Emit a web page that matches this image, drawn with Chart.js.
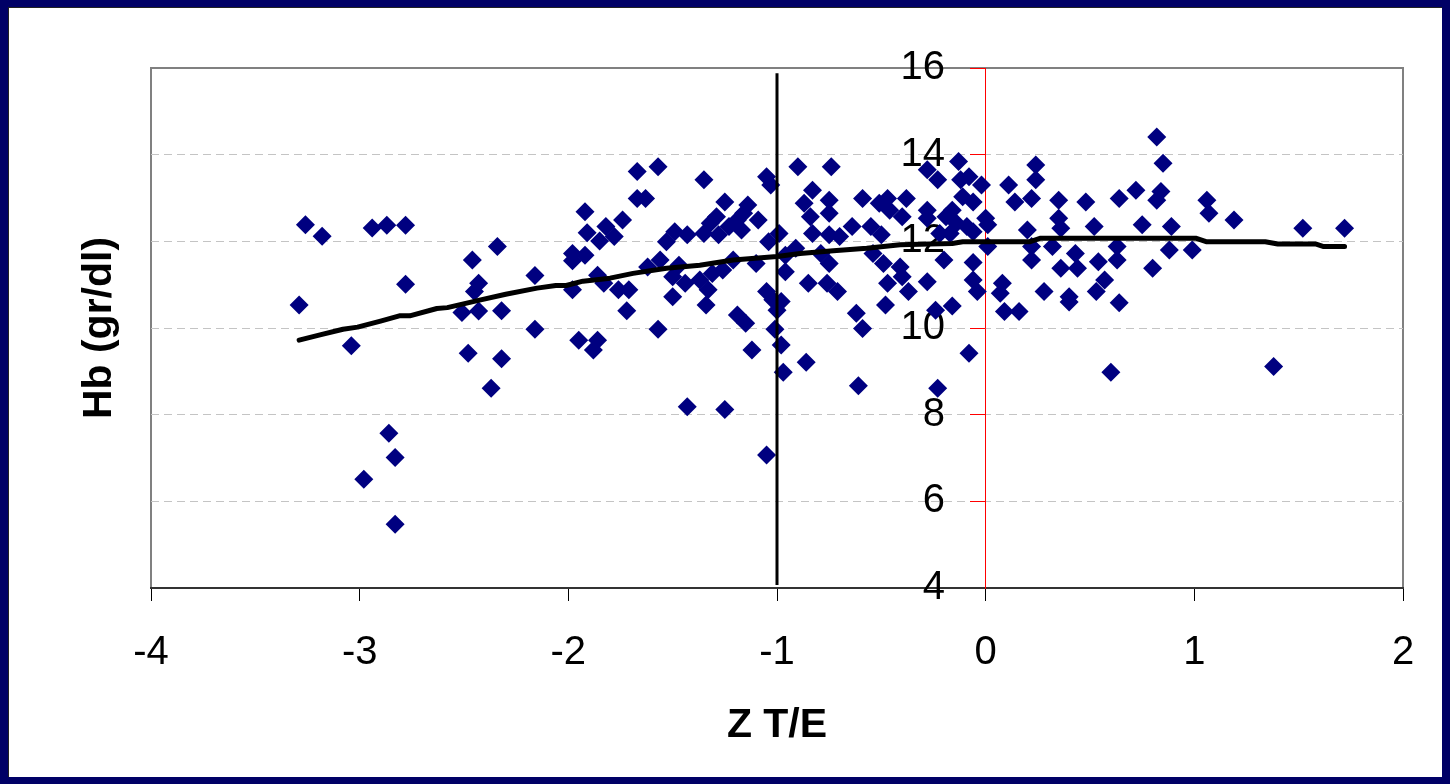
<!DOCTYPE html>
<html>
<head>
<meta charset="utf-8">
<script src="https://cdn.jsdelivr.net/npm/chart.js@4.4.1/dist/chart.umd.min.js"></script>
<style>
  html, body { margin: 0; padding: 0; }
  body { width: 1450px; height: 784px; background: #000066; position: relative; overflow: hidden; }
  #frame { position: absolute; left: 8px; top: 7px; width: 1434px; height: 770px; background: #ffffff; border-left: 1px solid #222; border-top: 1px solid #222; box-sizing: border-box; }
  #chart { position: absolute; left: 0; top: 0; }
</style>
</head>
<body>
<div id="frame"></div>
<canvas id="chart" width="1450" height="784"></canvas>
<script>
const FONT_FAMILY = "'Liberation Sans', Arial, sans-serif";

// scatter points: Z score (T/E) and haemoglobin
const zScores = [
  -3.26, -3.18, -2.94, -2.87, -2.78, -3.29, -2.78, -3.04, -2.46, -2.34,
  -2.43, -2.45, -2.51, -2.43, -2.32, -2.48, -2.32, -2.16, -2.16, -1.92,
  -1.91, -1.85, -1.98, -1.92, -1.98, -1.86, -1.83, -1.98, -1.95, -1.86,
  -1.88, -1.82, -2.37, -2.86, -2.83, -2.98, -2.83, -1.67, -1.57, -1.35,
  -1.05, -1.03, -0.90, -0.74, -1.67, -1.63, -1.74, -1.78, -1.25, -1.14,
  -1.16, -1.19, -1.29, -1.32, -1.23, -1.09, -1.35, -1.28, -1.43, -1.49,
  -1.53, -1.17, -0.99, -1.04, -0.83, -0.87, -0.75, -0.75, -0.84, -0.83,
  -0.75, -0.70, -0.64, -0.59, -0.51, -0.47, -0.38, -0.46, -0.40, -0.55,
  -0.50, -0.28, -0.28, -0.91, -0.96, -0.79, -0.75, -0.54, -0.49, -0.41,
  -0.40, -1.56, -1.62, -1.47, -1.50, -1.44, -1.37, -1.33, -1.31, -1.26,
  -1.21, -1.10, -0.96, -1.76, -1.71, -1.50, -1.72, -1.34, -1.05, -1.02,
  -0.98, -1.00, -0.85, -0.76, -0.71, -0.47, -0.37, -0.48, -0.28, -1.19,
  -1.15, -1.57, -1.01, -0.62, -0.59, -1.12, -0.98, -0.86, -0.97, -0.61,
  -1.43, -1.25, -1.05, 0.82, 0.85, -0.13, -0.23, -0.12, -0.08, -0.02,
  0.11, 0.24, 0.24, 0.14, 0.22, 0.35, 0.48, 0.64, 0.72, 0.84,
  0.82, 1.06, 1.07, 1.19, -0.11, -0.06, -0.28, -0.16, -0.19, -0.14,
  -0.09, 0.00, 0.01, -0.06, -0.22, -0.17, 0.35, 0.36, 0.52, 0.75,
  0.89, 0.20, 0.01, 0.22, 0.32, 0.43, 0.63, 0.88, 0.99, -0.20,
  -0.06, 0.22, 0.36, 0.44, 0.54, 0.63, 0.80, -0.06, -0.04, 0.08,
  0.07, 0.28, 0.40, 0.40, 0.57, 0.53, 0.64, -0.24, -0.16, 0.09,
  0.16, -0.08, 0.60, -0.23, 1.38, 1.52, 1.72
];

const hbValues = [
  12.38, 12.12, 12.31, 12.37, 12.37, 10.53, 11.01, 9.59, 11.57, 11.88,
  11.03, 10.84, 10.36, 10.39, 10.40, 9.42, 9.29, 11.21, 9.97, 12.68,
  12.20, 12.01, 11.72, 11.68, 11.55, 11.22, 11.03, 10.88, 9.72, 9.72,
  9.49, 12.34, 8.61, 7.57, 7.01, 6.51, 5.47, 13.61, 13.72, 13.42,
  13.49, 13.30, 13.72, 13.72, 12.99, 12.99, 12.49, 12.11, 12.91, 12.84,
  12.65, 12.49, 12.57, 12.42, 12.34, 12.49, 12.18, 12.15, 12.15, 12.22,
  11.99, 12.26, 12.18, 11.99, 13.18, 12.88, 12.95, 12.65, 12.57, 12.18,
  12.15, 12.11, 12.34, 12.99, 12.88, 12.99, 12.99, 12.72, 12.57, 12.34,
  12.15, 13.65, 12.72, 11.84, 11.68, 11.72, 11.49, 11.72, 11.49, 11.41,
  11.18, 11.57, 11.41, 11.45, 11.18, 11.03, 11.11, 10.88, 11.26, 11.34,
  11.57, 11.49, 11.30, 10.88, 10.88, 10.72, 10.40, 10.53, 10.84, 10.65,
  10.61, 10.41, 11.03, 11.03, 10.84, 11.03, 10.84, 10.53, 11.07, 10.30,
  10.11, 9.97, 9.97, 10.34, 9.99, 9.49, 9.61, 9.21, 8.98, 8.67,
  8.18, 8.12, 7.07, 14.41, 13.80, 13.84, 13.42, 13.42, 13.49, 13.30,
  13.30, 13.76, 13.42, 12.91, 12.99, 12.95, 12.91, 12.99, 13.18, 13.15,
  12.95, 12.95, 12.65, 12.49, 13.03, 12.91, 12.53, 12.72, 12.57, 12.42,
  12.34, 12.53, 12.38, 12.22, 12.18, 12.18, 12.53, 12.30, 12.34, 12.38,
  12.34, 12.26, 11.88, 11.88, 11.88, 11.72, 11.88, 11.80, 11.80, 11.57,
  11.51, 11.57, 11.38, 11.38, 11.53, 11.57, 11.38, 11.11, 10.84, 11.03,
  10.80, 10.84, 10.72, 10.60, 11.11, 10.84, 10.58, 10.41, 10.51, 10.38,
  10.38, 9.42, 8.98, 8.61, 9.11, 12.30, 12.30
];

// smoothed trend curve
const trendX = [
  -3.29, -3.19, -3.08, -3.01, -2.90, -2.81, -2.76, -2.63, -2.58, -2.42,
  -2.30, -2.15, -2.06, -2.01, -1.93, -1.80, -1.69, -1.53, -1.37, -1.21,
  -1.00, -0.89, -0.73, -0.57, -0.41, -0.27, -0.16, -0.11, 0.21, 0.26,
  1.01, 1.06, 1.34, 1.40, 1.58, 1.62, 1.72
];
const trendY = [
  9.72, 9.84, 9.97, 10.02, 10.16, 10.28, 10.28, 10.45, 10.47, 10.65,
  10.78, 10.92, 10.98, 10.98, 11.08, 11.15, 11.26, 11.38, 11.45, 11.57,
  11.65, 11.72, 11.78, 11.84, 11.92, 11.94, 11.95, 11.99, 11.99, 12.07,
  12.07, 11.99, 11.99, 11.94, 11.94, 11.88, 11.88
];

// vertical reference line at Z = -1
const refLineX = [-1, -1];
const refLineY = [15.88, 4.07];

const xTicks = [-4, -3, -2, -1, 0, 1, 2];
const yTicks = [4, 6, 8, 10, 12, 14, 16];

// the y labels sit a little left of the axis drawn at Z = 0
const yLabelColumnAt = -0.195;

function toPoints(xs, ys) {
  return xs.map((x, i) => ({ x, y: ys[i] }));
}

const plotFrame = {
  id: "plotFrame",
  beforeDraw(chart) {
    const { ctx, chartArea } = chart;
    ctx.save();
    ctx.strokeStyle = "#808080";
    ctx.lineWidth = 2;
    ctx.strokeRect(chartArea.left, chartArea.top, chartArea.right - chartArea.left, chartArea.bottom - chartArea.top);
    ctx.restore();
  }
};

new Chart(document.getElementById("chart"), {
  type: "scatter",
  data: {
    datasets: [
      {
        label: "Z = -1",
        data: toPoints(refLineX, refLineY),
        showLine: true,
        borderColor: "#000000",
        borderWidth: 3,
        pointRadius: 0,
        order: 1
      },
      {
        label: "trend",
        data: toPoints(trendX, trendY),
        showLine: true,
        borderColor: "#000000",
        borderWidth: 5,
        borderCapStyle: "round",
        borderJoinStyle: "round",
        pointRadius: 0,
        tension: 0,
        order: 0
      },
      {
        label: "Hb",
        data: toPoints(zScores, hbValues),
        pointStyle: "rectRot",
        pointRadius: 9.5,
        backgroundColor: "#000080",
        borderColor: "#000080",
        borderWidth: 0,
        order: 2
      }
    ]
  },
  options: {
    responsive: false,
    animation: false,
    layout: {
      padding: { left: 60, top: 68, right: 47, bottom: 0 }
    },
    plugins: {
      legend: { display: false },
      tooltip: { enabled: false }
    },
    scales: {
      x: {
        type: "linear",
        position: "bottom",
        min: -4,
        max: 2,
        afterBuildTicks(scale) {
          scale.ticks = xTicks.map((value) => ({ value }));
        },
        afterFit(scale) {
          scale.height = 196;
        },
        ticks: {
          color: "#000000",
          padding: 28,
          font: { family: FONT_FAMILY, size: 40 }
        },
        grid: {
          drawOnChartArea: false,
          tickColor: "#000000",
          tickLength: 13,
          tickWidth: 1
        },
        border: { color: "#333333", width: 2 },
        title: {
          display: true,
          text: "Z T/E",
          color: "#000000",
          font: { family: FONT_FAMILY, size: 41, weight: "bold" },
          padding: { top: 0, bottom: 34 }
        }
      },
      y: {
        type: "linear",
        position: { x: 0 },
        min: 4,
        max: 16,
        afterBuildTicks(scale) {
          scale.ticks = yTicks.map((value) => ({ value }));
        },
        ticks: { display: false },
        grid: {
          color(context) {
            const value = context.tick ? context.tick.value : null;
            return value === 4 || value === 16 ? "rgba(0,0,0,0)" : "#c4c4c4";
          },
          lineWidth: 1,
          tickColor: "#ff0000",
          tickLength: 15,
          tickWidth: 1
        },
        border: { color: "#ff0000", width: 1, dash: [8, 5] }
      },
      yLabels: {
        type: "linear",
        axis: "y",
        position: { x: yLabelColumnAt },
        min: 4,
        max: 16,
        afterBuildTicks(scale) {
          scale.ticks = yTicks.map((value) => ({ value }));
        },
        ticks: {
          color: "#000000",
          padding: 0,
          font: { family: FONT_FAMILY, size: 40 }
        },
        grid: { display: false, drawTicks: false },
        border: { display: false }
      },
      yTitle: {
        type: "linear",
        axis: "y",
        position: "left",
        min: 4,
        max: 16,
        afterFit(scale) {
          scale.width = 91;
        },
        ticks: { display: false },
        grid: { display: false, drawTicks: false },
        border: { display: false },
        title: {
          display: true,
          text: "Hb (gr/dl)",
          color: "#000000",
          font: { family: FONT_FAMILY, size: 41, weight: "bold" },
          padding: { top: 15, bottom: 0 }
        }
      }
    }
  },
  plugins: [plotFrame]
});
</script>
</body>
</html>
